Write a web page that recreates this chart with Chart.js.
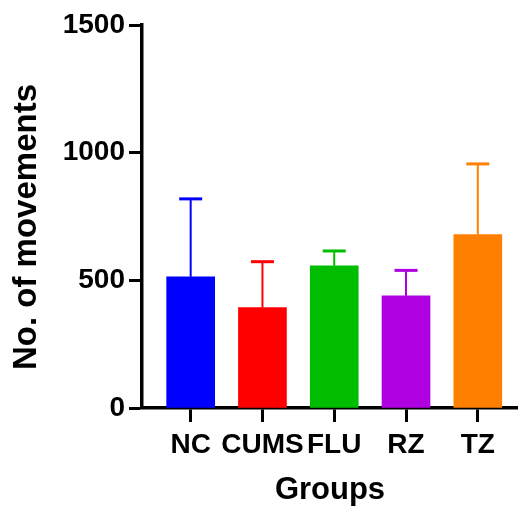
<!DOCTYPE html>
<html>
<head>
<meta charset="utf-8">
<script src="https://cdn.jsdelivr.net/npm/chart.js@4"></script>
<style>
html,body{margin:0;padding:0;background:#fff;}
#wrap{width:518px;height:509px;position:relative;}
</style>
</head>
<body>
<div id="wrap"><canvas id="c" width="518" height="509"></canvas></div>
<script>
const categories = ["NC", "CUMS", "FLU", "RZ", "TZ"];
const means = [514, 393, 557, 439, 679];
const errors = [305, 180, 58, 100, 277];
const colors = ["#0000FF", "#FF0000", "#00BD00", "#AE00E0", "#FF8000"];
const yTicks = [0, 500, 1000, 1500];
const yTitle = "No. of movements";
const xTitle = "Groups";

const FONT = "'Liberation Sans', Arial, sans-serif";

const errorBars = {
  id: 'errorBars',
  afterDatasetsDraw(chart) {
    const ctx = chart.ctx;
    const xs = chart.scales.x, ys = chart.scales.y;
    ctx.save();
    means.forEach((m, i) => {
      const x = xs.getPixelForValue(i);
      const y0 = ys.getPixelForValue(m);
      const y1 = ys.getPixelForValue(m + errors[i]);
      ctx.strokeStyle = colors[i];
      ctx.lineWidth = 2;
      ctx.beginPath();
      ctx.moveTo(x, y0);
      ctx.lineTo(x, y1);
      ctx.stroke();
      ctx.lineWidth = 3;
      ctx.beginPath();
      ctx.moveTo(x - 11.5, y1);
      ctx.lineTo(x + 11.5, y1);
      ctx.stroke();
    });
    // y axis title
    ctx.fillStyle = '#000';
    ctx.font = "bold 33px " + FONT;
    ctx.textAlign = 'center';
    ctx.textBaseline = 'middle';
    ctx.translate(27, 227);
    ctx.rotate(-Math.PI / 2);
    ctx.fillText(yTitle, 0, 0);
    ctx.restore();
  }
};

new Chart(document.getElementById('c'), {
  type: 'bar',
  data: {
    datasets: [{
      data: means.map((v, i) => ({x: i, y: v})),
      backgroundColor: colors,
      borderWidth: 0,
      barThickness: 48
    }]
  },
  options: {
    responsive: false,
    animation: false,
    devicePixelRatio: 1,
    layout: {padding: {top: 25, right: 0, left: 0, bottom: 0}},
    plugins: {legend: {display: false}, tooltip: {enabled: false}},
    scales: {
      x: {
        type: 'linear',
        offset: false,
        min: -0.678,
        max: 4.56,
        afterBuildTicks(scale) { scale.ticks = categories.map((c, i) => ({value: i})); },
        afterFit(scale) { scale.height = 101; },
        ticks: {
          autoSkip: false,
          maxRotation: 0,
          padding: 6,
          color: '#000',
          font: {family: FONT, size: 28, weight: 'bold'},
          callback: (v) => categories[v]
        },
        grid: {drawOnChartArea: false, drawTicks: true, tickLength: 14, tickWidth: 3, color: '#000', offset: false},
        border: {display: true, color: '#000', width: 3.5},
        title: {
          display: true, text: xTitle, color: '#000',
          font: {family: FONT, size: 31, weight: 'bold'},
          padding: {top: 0, bottom: 0}
        }
      },
      y: {
        type: 'linear',
        min: 0,
        max: 1500,
        afterBuildTicks(scale) { scale.ticks = yTicks.map(v => ({value: v})); },
        afterFit(scale) { scale.width = 142; },
        ticks: {
          padding: 4,
          color: '#000',
          font: {family: FONT, size: 28, weight: 'bold'},
          callback: (v) => String(v)
        },
        grid: {drawOnChartArea: false, drawTicks: true, tickLength: 13, tickWidth: 3, color: '#000'},
        border: {display: true, color: '#000', width: 3.5},
        title: {display: false}
      }
    }
  },
  plugins: [errorBars]
});
</script>
</body>
</html>
